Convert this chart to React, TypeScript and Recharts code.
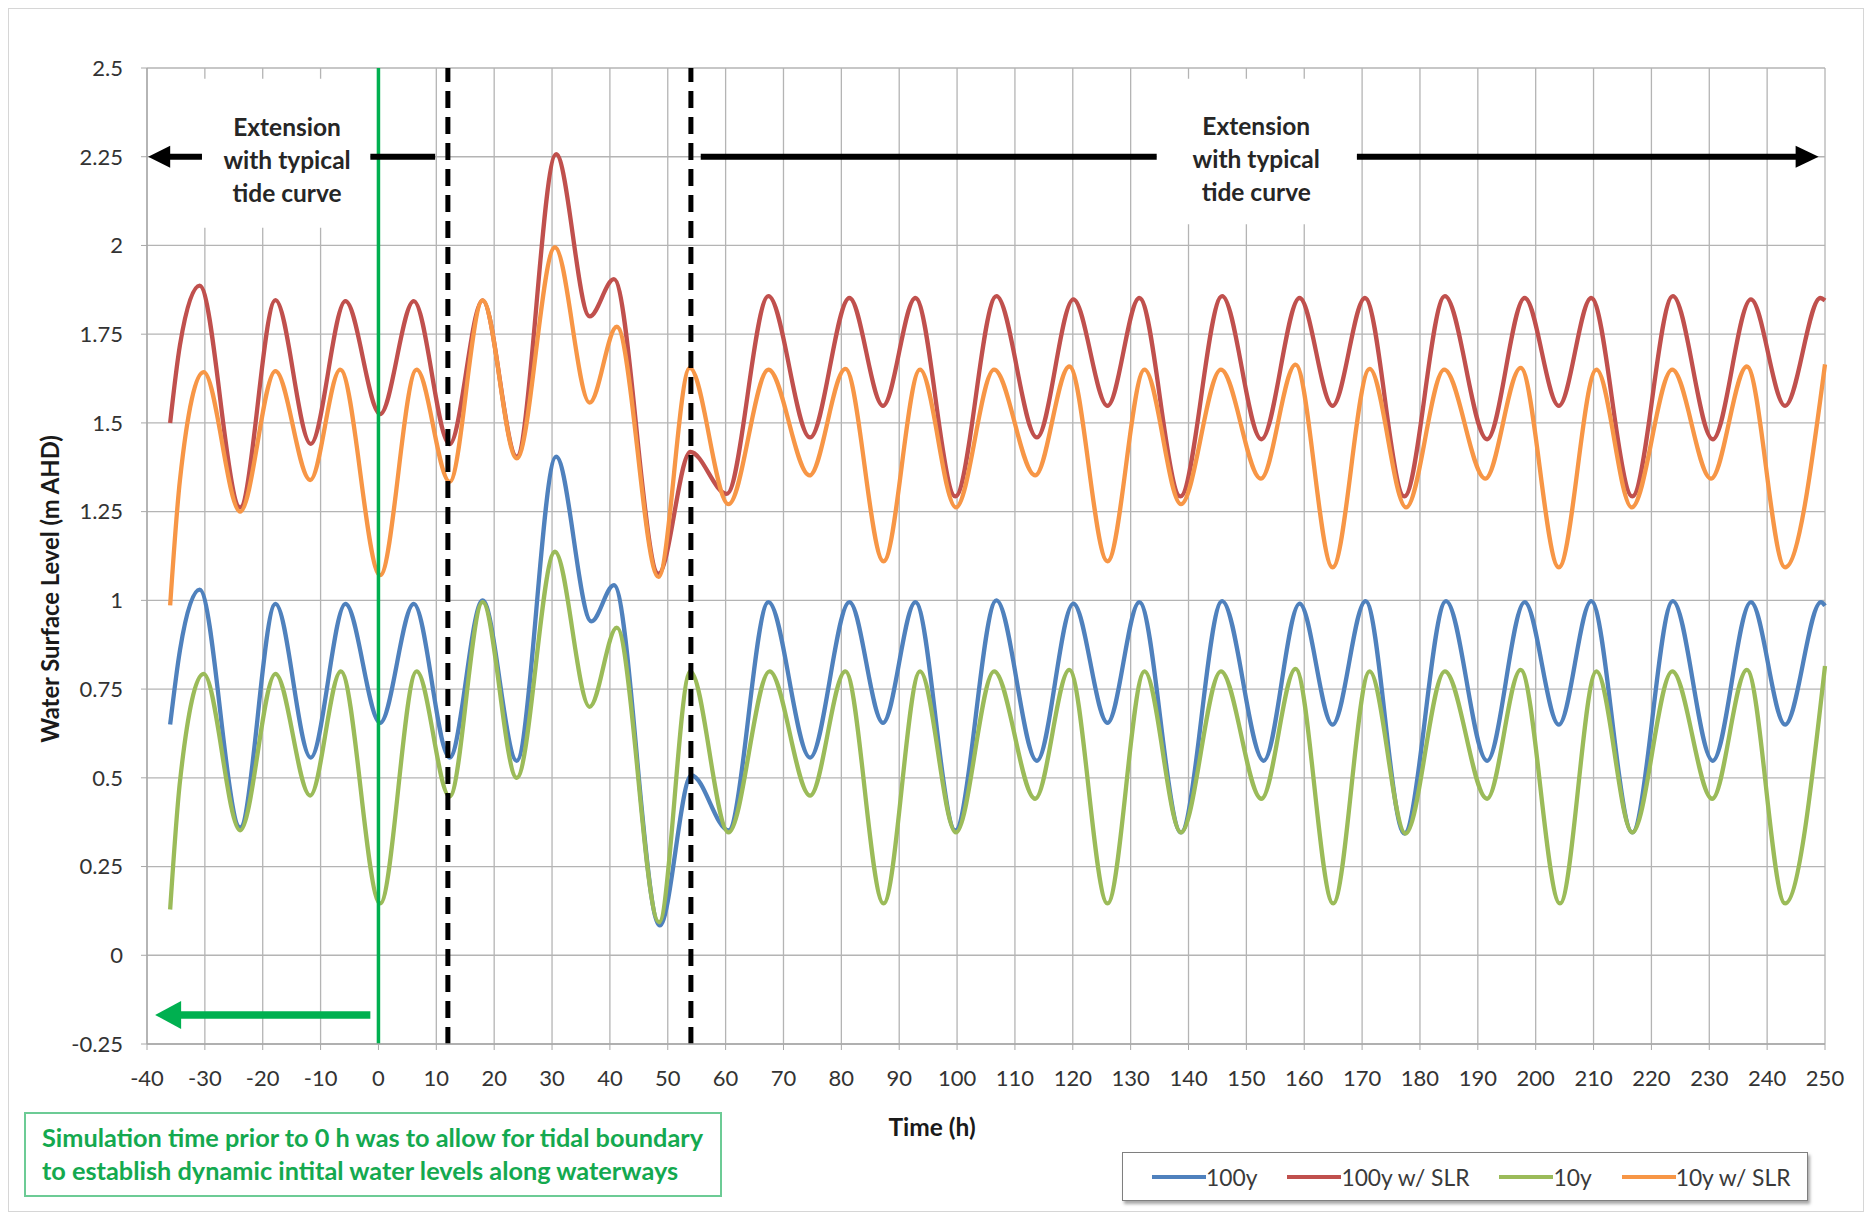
import React from 'react';
import {
  LineChart,
  Line,
  XAxis,
  YAxis,
  CartesianGrid,
  ReferenceLine,
  ReferenceArea,
  ReferenceDot,
} from 'recharts';

// ---------- axis ticks ----------
const xTicks = [-40, -30, -20, -10, 0, 10, 20, 30, 40, 50, 60, 70, 80, 90, 100, 110, 120, 130, 140, 150, 160, 170, 180, 190, 200, 210, 220, 230, 240, 250];
const yTicks = [-0.25, 0, 0.25, 0.5, 0.75, 1, 1.25, 1.5, 1.75, 2, 2.25, 2.5];

// ---------- series (turning points) ----------
const t100y = [-36, -34.3, -30.9, -23.9, -17.8, -11.7, -5.7, 0.3, 6.1, 12.3, 18, 23.9, 30.7, 36.8, 40.7, 48.6, 54.1, 60.5, 67.4, 74.6, 81.4, 87.2, 92.8, 99.7, 106.8, 113.8, 120.1, 126, 131.5, 138.7, 145.8, 153, 159.2, 164.9, 170.6, 177.3, 184.5, 191.6, 198.1, 204, 209.6, 216.7, 223.7, 230.6, 237.2, 243.1, 249.3, 250];
const v100y = [0.65, 0.86, 1.03, 0.36, 0.99, 0.557, 0.99, 0.655, 0.99, 0.557, 1.0, 0.548, 1.405, 0.941, 1.043, 0.084, 0.507, 0.352, 0.995, 0.557, 0.995, 0.655, 0.995, 0.352, 1.0, 0.548, 0.991, 0.655, 0.995, 0.346, 0.998, 0.548, 0.991, 0.65, 0.998, 0.343, 0.998, 0.548, 0.995, 0.65, 0.998, 0.346, 0.998, 0.548, 0.995, 0.65, 0.995, 0.985];

const t100ySLR = [-36, -34.3, -30.9, -23.9, -17.8, -11.7, -5.7, 0.3, 6.1, 12.3, 18, 23.9, 30.7, 36.5, 40.7, 48.4, 53.9, 60.2, 67.4, 74.6, 81.4, 87.2, 92.8, 99.7, 106.8, 113.8, 120.1, 126, 131.5, 138.6, 145.8, 152.6, 159.2, 164.9, 170.5, 177.3, 184.3, 191.6, 198.1, 204, 209.6, 216.7, 223.7, 230.6, 237.2, 243.1, 249.2, 250];
const v100ySLR = [1.5, 1.72, 1.887, 1.262, 1.846, 1.441, 1.843, 1.525, 1.843, 1.44, 1.845, 1.405, 2.257, 1.8, 1.905, 1.075, 1.418, 1.3, 1.857, 1.459, 1.852, 1.548, 1.852, 1.293, 1.857, 1.459, 1.848, 1.548, 1.852, 1.293, 1.857, 1.454, 1.852, 1.548, 1.852, 1.293, 1.857, 1.454, 1.852, 1.548, 1.852, 1.293, 1.857, 1.454, 1.848, 1.548, 1.852, 1.845];

const t10y = [-36, -34.3, -30.2, -23.9, -17.8, -11.8, -6.5, 0.3, 6.6, 12.3, 18, 23.9, 30.5, 36.5, 41.2, 48.5, 53.9, 60.5, 67.6, 74.6, 80.7, 87.3, 93.6, 99.8, 106.4, 113.5, 119.4, 126, 132.4, 138.7, 145.6, 152.6, 158.5, 165, 171.3, 177.5, 184.3, 191.6, 197.4, 204.2, 210.5, 216.7, 223.6, 230.5, 236.5, 243.1, 250];
const v10y = [0.129, 0.49, 0.793, 0.352, 0.793, 0.45, 0.8, 0.146, 0.8, 0.447, 0.995, 0.5, 1.137, 0.7, 0.923, 0.093, 0.8, 0.346, 0.8, 0.45, 0.8, 0.146, 0.8, 0.346, 0.8, 0.441, 0.804, 0.146, 0.8, 0.346, 0.8, 0.441, 0.807, 0.146, 0.8, 0.343, 0.8, 0.441, 0.804, 0.146, 0.8, 0.346, 0.8, 0.441, 0.804, 0.146, 0.815];

const t10ySLR = [-36, -34.3, -30.2, -23.9, -17.8, -11.8, -6.6, 0.3, 6.6, 12.3, 18, 23.9, 30.5, 36.5, 41.2, 48.4, 53.8, 60.5, 67.4, 74.5, 80.7, 87.3, 93.6, 99.8, 106.4, 113.5, 119.4, 126, 132.4, 138.7, 145.6, 152.5, 158.5, 164.9, 171.3, 177.6, 184.2, 191.3, 197.4, 204, 210.5, 216.6, 223.6, 230.3, 236.5, 243.1, 250];
const v10ySLR = [0.986, 1.34, 1.643, 1.25, 1.646, 1.339, 1.65, 1.071, 1.65, 1.334, 1.845, 1.4, 1.995, 1.557, 1.771, 1.066, 1.655, 1.271, 1.65, 1.352, 1.652, 1.11, 1.65, 1.262, 1.65, 1.352, 1.659, 1.11, 1.65, 1.271, 1.65, 1.343, 1.664, 1.093, 1.652, 1.262, 1.65, 1.343, 1.655, 1.093, 1.65, 1.262, 1.65, 1.343, 1.659, 1.093, 1.665];

const seriesNames = ['100y', '100y w/ SLR', '10y', '10y w/ SLR'];
const seriesColors = ['#4F81BD', '#C0504D', '#9BBB59', '#F79646'];
const seriesTimes = [t100y, t100ySLR, t10y, t10ySLR];
const seriesValues = [v100y, v100ySLR, v10y, v10ySLR];

// ---------- annotations (data units) ----------
const simStartLine = 0;
const dashedLines = [12, 54];
const extensionLabelLines = ['Extension', 'with typical', 'tide curve'];
const noteLines = [
  'Simulation time prior to 0 h was to allow for tidal boundary',
  'to establish dynamic intital water levels along waterways',
];

const buildRows = (ts: number[], vs: number[]) => ts.map((t, i) => ({ t, v: vs[i] }));

const arrowShape =
  (color: string, width: number, headLen: number, headHalf: number) =>
  (props: any) => {
    const { x1, y1, x2, y2 } = props;
    const dx = x2 - x1;
    const dy = y2 - y1;
    const len = Math.hypot(dx, dy) || 1;
    const ux = dx / len;
    const uy = dy / len;
    const bx = x2 - ux * headLen;
    const by = y2 - uy * headLen;
    return (
      <g>
        <line x1={x1} y1={y1} x2={bx + ux * 2} y2={by + uy * 2} stroke={color} strokeWidth={width} />
        <polygon
          points={`${x2},${y2} ${bx - uy * headHalf},${by + ux * headHalf} ${bx + uy * headHalf},${by - ux * headHalf}`}
          fill={color}
        />
      </g>
    );
  };

const textShape = (lines: string[]) => (props: any) => {
  const { cx, cy } = props;
  return (
    <g>
      {lines.map((l, i) => (
        <text
          key={i}
          x={cx}
          y={cy + (i - 1) * 33}
          textAnchor="middle"
          dominantBaseline="central"
          fontSize={24.5}
          fontWeight={700}
          fill="#262626"
          fontFamily="Lato, sans-serif"
        >
          {l}
        </text>
      ))}
    </g>
  );
};

export default function App() {
  return (
    <div
      style={{
        position: 'absolute',
        left: 0,
        top: 0,
        width: 1872,
        height: 1221,
        background: '#fff',
        fontFamily: 'Lato, sans-serif',
      }}
    >
      <div
        style={{
          position: 'absolute',
          left: 8,
          top: 8,
          width: 1856,
          height: 1204,
          border: '1.5px solid #D6D6D6',
          boxSizing: 'border-box',
        }}
      />
      <LineChart
        width={1872}
        height={1221}
        margin={{ top: 68, right: 47, left: 0, bottom: 0 }}
        style={{ position: 'absolute', left: 0, top: 0 }}
      >
        <CartesianGrid stroke="#B4B4B4" strokeWidth={1.3} />
        <XAxis
          dataKey="t"
          type="number"
          domain={[-40, 250]}
          ticks={xTicks}
          interval={0}
          height={177}
          tickSize={6}
          tickMargin={20}
          axisLine={{ stroke: '#A8A8A8', strokeWidth: 1.3 }}
          tickLine={{ stroke: '#A8A8A8' }}
          tick={{ fontSize: 22, fill: '#333333' }}
        />
        <YAxis
          type="number"
          domain={[-0.25, 2.5]}
          ticks={yTicks}
          interval={0}
          width={147}
          tickSize={6}
          tickMargin={18}
          axisLine={{ stroke: '#A8A8A8', strokeWidth: 1.3 }}
          tickLine={{ stroke: '#A8A8A8' }}
          tick={{ fontSize: 22, fill: '#333333' }}
        />
        <ReferenceArea x1={-30.5} x2={-1.4} y1={2.05} y2={2.47} fill="#ffffff" fillOpacity={1} stroke="none" />
        <ReferenceArea x1={134.5} x2={169.1} y1={2.06} y2={2.47} fill="#ffffff" fillOpacity={1} stroke="none" />

        {seriesNames.map((name, i) => (
          <Line
            key={name}
            name={name}
            data={buildRows(seriesTimes[i], seriesValues[i])}
            dataKey="v"
            type="monotone"
            stroke={seriesColors[i]}
            strokeWidth={4.3}
            dot={false}
            activeDot={false}
            isAnimationActive={false}
          />
        ))}

        <ReferenceLine x={simStartLine} stroke="#00B050" strokeWidth={3.5} />
        {dashedLines.map((x) => (
          <ReferenceLine key={x} x={x} stroke="#000" strokeWidth={5} strokeDasharray="17 9" />
        ))}

        <ReferenceLine
          segment={[{ x: -30.5, y: 2.25 }, { x: -39.8, y: 2.25 }]}
          shape={arrowShape('#000', 6, 22, 11)}
        />
        <ReferenceLine segment={[{ x: -1.4, y: 2.25 }, { x: 9.8, y: 2.25 }]} stroke="#000" strokeWidth={6} />
        <ReferenceLine segment={[{ x: 55.7, y: 2.25 }, { x: 134.5, y: 2.25 }]} stroke="#000" strokeWidth={6} />
        <ReferenceLine
          segment={[{ x: 169.1, y: 2.25 }, { x: 248.9, y: 2.25 }]}
          shape={arrowShape('#000', 6, 23, 11)}
        />
        <ReferenceLine
          segment={[{ x: -1.4, y: -0.168 }, { x: -38.6, y: -0.168 }]}
          shape={arrowShape('#00B050', 7.5, 26, 14)}
        />
        <ReferenceDot x={-15.8} y={2.241} r={0} shape={textShape(extensionLabelLines)} />
        <ReferenceDot x={151.7} y={2.244} r={0} shape={textShape(extensionLabelLines)} />
      </LineChart>

      {/* Axis titles */}
      <div
        style={{
          position: 'absolute',
          left: 50,
          top: 589,
          transform: 'translate(-50%, -50%) rotate(-90deg)',
          whiteSpace: 'nowrap',
          fontSize: 23.8,
          fontWeight: 700,
          color: '#1a1a1a',
        }}
      >
        Water Surface Level (m AHD)
      </div>
      <div
        style={{
          position: 'absolute',
          left: 932,
          top: 1126,
          transform: 'translate(-50%, -50%)',
          whiteSpace: 'nowrap',
          fontSize: 24.5,
          fontWeight: 700,
          color: '#1a1a1a',
        }}
      >
        Time (h)
      </div>

      {/* Note box */}
      <div
        style={{
          position: 'absolute',
          left: 24,
          top: 1112,
          width: 698,
          height: 85,
          border: '2px solid #6CCB95',
          boxSizing: 'border-box',
          padding: '7px 0 0 16px',
          color: '#14A94F',
          fontSize: 25.3,
          fontWeight: 700,
          lineHeight: '33px',
          whiteSpace: 'nowrap',
        }}
      >
        {noteLines.map((l) => (
          <div key={l}>{l}</div>
        ))}
      </div>

      {/* Legend */}
      <div
        style={{
          position: 'absolute',
          left: 1122,
          top: 1152,
          width: 686,
          height: 49,
          border: '1.5px solid #7F7F7F',
          boxShadow: '2px 3px 3px rgba(0,0,0,0.35)',
          boxSizing: 'border-box',
          display: 'flex',
          alignItems: 'center',
          paddingLeft: 29,
          background: '#fff',
        }}
      >
        {seriesNames.map((name, i) => (
          <div key={name} style={{ display: 'flex', alignItems: 'center', marginRight: 30 }}>
            <span style={{ display: 'inline-block', width: 54, height: 4, background: seriesColors[i] }} />
            <span style={{ fontSize: 22.8, color: '#3a3a3a', whiteSpace: 'nowrap' }}>{name}</span>
          </div>
        ))}
      </div>
    </div>
  );
}
